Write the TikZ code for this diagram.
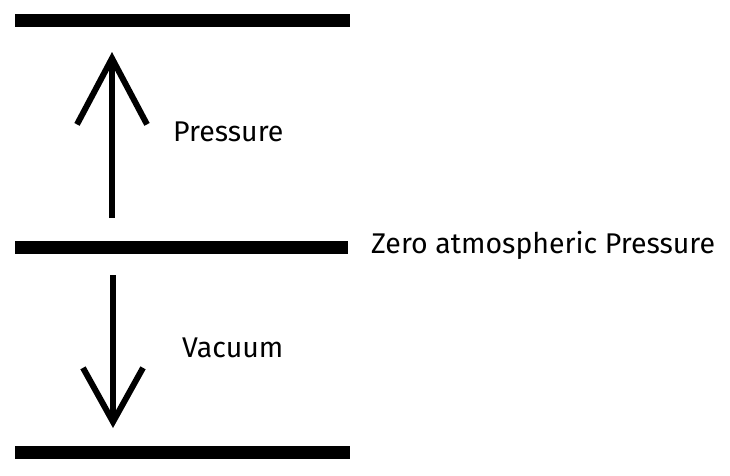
\documentclass[tikz,border=0pt]{standalone}
\usepackage{fontspec}
\setmainfont{Fira Sans}
\usetikzlibrary{arrows.meta}
\begin{document}
\begin{tikzpicture}[x=1pt, y=-1pt, font=\fontsize{28.5}{32}\selectfont,
		level/.style={line width=13pt},
		push/.style={line width=6pt, -{Straight Barb[length=#1]}},
		tag/.style={anchor=west, inner sep=0pt}]
	\useasboundingbox (0,0) rectangle (730,475);
	% Pressure levels
	\draw[level] (15,20) -- (350,20);
	\draw[level] (15,247) -- (348,247);
	\draw[level] (15,452) -- (350,452);
	% Arrow ends
	\coordinate (upfoot) at (112,218);
	\coordinate (uptip) at (112,52);
	\coordinate (downfoot) at (113,275);
	\coordinate (downtip) at (113,428);
	\draw[push={66pt, width=70pt}] (upfoot) -- (uptip);
	\draw[push={54pt, width=60pt}] (downfoot) -- (downtip);
	% Labels
	\node[tag] (pressure) at (173,132) {Pressure};
	\node[tag] (zero) at (371,245) {Zero atmospheric Pressure};
	\node[tag] (vacuum) at (182,348) {Vacuum};
\end{tikzpicture}
\end{document}
